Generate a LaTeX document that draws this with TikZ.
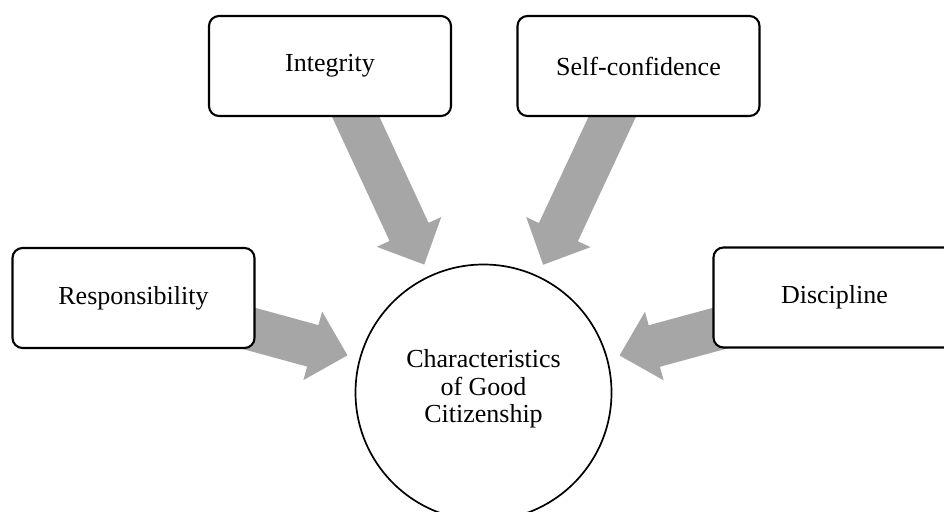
\documentclass[tikz,border=0pt]{standalone}
\usepackage{fontspec}
\setmainfont{Liberation Serif}
\usetikzlibrary{calc,backgrounds}
\definecolor{arrowgray}{HTML}{A6A6A6}
\tikzset{
  boxnode/.style={draw=black, line width=2.1pt, rounded corners=10pt, fill=white,
    minimum width=242pt, minimum height=100pt, inner sep=0pt,
    font=\fontsize{26}{28}\selectfont},
  goalnode/.style={draw=black, line width=1.7pt, circle, fill=white,
    minimum size=256pt, inner sep=0pt},
  goaltext/.style={align=center, inner sep=0pt, font=\fontsize{26}{27.5}\selectfont},
  fatarrow/.style={fill=arrowgray, draw=none},
}
\newcommand\drawfatarrow[3]{% #1 start, #2 tip, #3 prefix
  \coordinate (#3b) at ($(#2)!36pt!(#1)$);
  \fill[fatarrow] ($(#1)!21.5pt!90:(#2)$) -- ($(#3b)!21.5pt!90:(#2)$)
    -- ($(#3b)!35.5pt!90:(#2)$) -- (#2) -- ($(#3b)!35.5pt!-90:(#2)$)
    -- ($(#3b)!21.5pt!-90:(#2)$) -- ($(#1)!21.5pt!-90:(#2)$) -- cycle;
}
\begin{document}
\begin{tikzpicture}[x=1pt,y=-1pt]
\useasboundingbox (0,0) rectangle (944,511);
\clip (0,0) rectangle (944,511);
% nodes
\node[goalnode] (goal) at (483.5,392.5) {};
\node[goaltext] (goaltxt) at ($(goal.center)+(0,-3.5)$) {Characteristics\\of Good\\Citizenship};
\node[boxnode] (integ) at (330,66) {Integrity};
\node[boxnode] (selfc) at (638.5,66) {Self-confidence};
\node[boxnode] (resp) at (133.5,298) {Responsibility};
\node[boxnode] (disc) at (834.5,297.5) {Discipline};
% arrows behind the boxes
\begin{scope}[on background layer]
  \fill[white] (0,0) rectangle (944,511);
  \coordinate (integS) at ($(integ.center)+(17,32)$);
  \coordinate (selfcS) at ($(selfc.center)+(-17.5,32)$);
  \coordinate (respS) at ($(resp.center)+(97.5,25.5)$);
  \coordinate (discS) at ($(disc.center)+(-97.5,26)$);
  \coordinate (integT) at ($(goal.center)!141pt!(integS)$);
  \coordinate (selfcT) at ($(goal.center)!141pt!(selfcS)$);
  \coordinate (respT) at ($(goal.center)!141pt!(respS)$);
  \coordinate (discT) at ($(goal.center)!141pt!(discS)$);
  \drawfatarrow{integS}{integT}{ia}
  \drawfatarrow{selfcS}{selfcT}{sa}
  \drawfatarrow{respS}{respT}{ra}
  \drawfatarrow{discS}{discT}{da}
\end{scope}
\end{tikzpicture}
\end{document}
